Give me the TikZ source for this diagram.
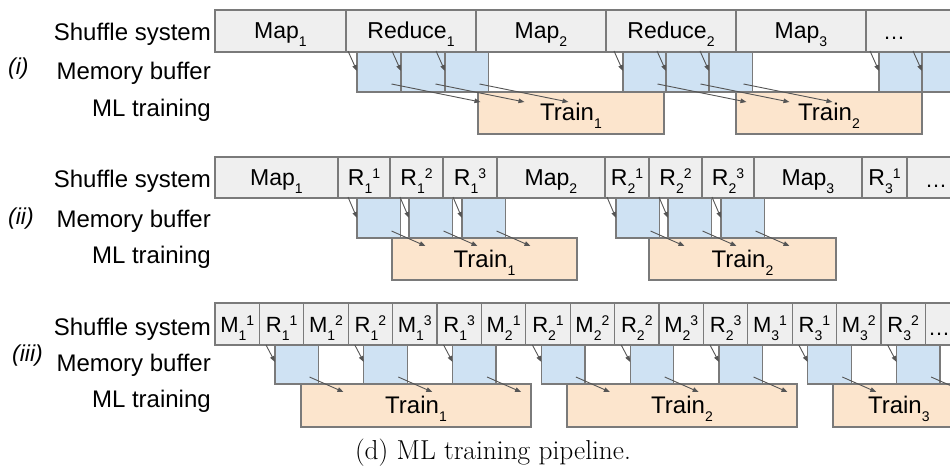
\documentclass[tikz,border=0pt]{standalone}
\usepackage{fontspec}
\newfontfamily\arial{Liberation Sans}
\usetikzlibrary{arrows.meta,calc}

\definecolor{shufFill}{HTML}{EFEFEF}
\definecolor{bufFill}{HTML}{CFE2F3}
\definecolor{trainFill}{HTML}{FCE5CD}
\definecolor{edgeGray}{HTML}{7A7A7A}
\definecolor{arrowGray}{HTML}{555555}

% small lowered / raised indices, set one after the other
\newcommand\lo[1]{\raisebox{-8pt}{\fontsize{14}{14}\selectfont #1}}
\newcommand\hi[1]{\raisebox{7pt}{\fontsize{14}{14}\selectfont #1}}

\tikzset{
  cell/.style={draw=edgeGray, line width=1.3pt, inner sep=0pt, outer sep=0pt,
    anchor=north west, text height=16pt, text depth=0pt,
    font=\arial\fontsize{23}{23}\selectfont},
  shufbox/.style={cell, fill=shufFill, minimum height=42pt},
  bufbox/.style={cell, fill=bufFill, minimum height=40pt, minimum width=43.5pt},
  trainbox/.style={cell, fill=trainFill, minimum height=42pt,
    font=\arial\fontsize{24}{24}\selectfont},
  rowlabel/.style={anchor=base east, inner sep=0pt, font=\arial\fontsize{24}{24}\selectfont},
  caselabel/.style={anchor=base west, inner sep=0pt, font=\arial\itshape\fontsize{23}{23}\selectfont},
  dotlabel/.style={anchor=base west, inner sep=0pt, font=\arial\fontsize{22}{22}\selectfont},
  flow/.style={draw=arrowGray, line width=0.9pt, -{Triangle[length=6pt,width=4.5pt]}},
}

\begin{document}
\begin{tikzpicture}[x=1pt,y=-1pt]
\useasboundingbox (0,0) rectangle (950,473);
\clip (0,0) rectangle (950,473);

% ---------------- (i) ----------------
\node[rowlabel] (la1) at (211,41) {Shuffle system};
\node[rowlabel] (la2) at (211,80) {Memory buffer};
\node[rowlabel] (la3) at (211,117) {ML training};
\node[caselabel] (ca) at (8,75) {(i)};

\foreach \n/\x/\w/\lab in {a1/215/131/Map\lo{1}, a2/346/130/Reduce\lo{1},
    a3/476/130/Map\lo{2}, a4/606/130/Reduce\lo{2}, a5/736/130/Map\lo{3},
    a6/866/130/{}}
  \node[shufbox, minimum width=\w pt] (\n) at (\x,10) {\lab};
\node[dotlabel] (ad) at (883,40) {…};

\node[trainbox, minimum width=186pt] (at1) at (478,92) {Train\lo{1}};
\node[trainbox, minimum width=186pt] (at2) at (736,92) {Train\lo{2}};

\foreach \n/\x in {ab1/357, ab2/401, ab3/445, ab4/623, ab5/666, ab6/709, ab7/879, ab8/922}
  \node[bufbox] (\n) at (\x,52) {};

\foreach \n in {ab1,ab2,ab3,ab4,ab5,ab6,ab7,ab8}
  \draw[flow] ($(\n.north west)+(-9,-1)$) -- ($(\n.north west)+(0,19)$);
\foreach \n in {ab1,ab2,ab3,ab4,ab5,ab6}
  \draw[flow] ($(\n.south east)+(-9,-8)$) -- ($(\n.south east)+(80,10)$);

% ---------------- (ii) ----------------
\node[rowlabel] (lb1) at (211,188) {Shuffle system};
\node[rowlabel] (lb2) at (211,227) {Memory buffer};
\node[rowlabel] (lb3) at (211,263) {ML training};
\node[caselabel] (cb) at (8,224) {(ii)};

\foreach \n/\x/\w/\lab in {b1/215/123/Map\lo{1}, b2/338/52/R\lo{1}\hi{1},
    b3/390/53/R\lo{1}\hi{2}, b4/443/54/R\lo{1}\hi{3}, b5/497/108/Map\lo{2},
    b6/605/44/R\lo{2}\hi{1}, b7/649/53/R\lo{2}\hi{2}, b8/702/52/R\lo{2}\hi{3},
    b9/754/108/Map\lo{3}, b10/862/45/R\lo{3}\hi{1}, b11/907/60/{}}
  \node[shufbox, minimum height=41pt, minimum width=\w pt] (\n) at (\x,157) {\lab};
\node[dotlabel] (bd) at (925,188) {…};

\node[trainbox, minimum width=185pt] (bt1) at (392,238) {Train\lo{1}};
\node[trainbox, minimum width=187pt] (bt2) at (649,238) {Train\lo{2}};

\foreach \n/\x in {bb1/357, bb2/409, bb3/462, bb4/616, bb5/668, bb6/721}
  \node[bufbox] (\n) at (\x,198) {};

\foreach \n in {bb1,bb2,bb3,bb4,bb5,bb6}{
  \draw[flow] ($(\n.north west)+(-9,-1)$) -- ($(\n.north west)+(0,20)$);
  \draw[flow] ($(\n.south east)+(-9,-7)$) -- ($(\n.south east)+(25,8)$);
}

% ---------------- (iii) ----------------
\node[rowlabel] (lc1) at (211,335) {Shuffle system};
\node[rowlabel] (lc2) at (211,371) {Memory buffer};
\node[rowlabel] (lc3) at (211,407) {ML training};
\node[caselabel] (cc) at (12,361) {(iii)};

\foreach \lab [count=\k from 0] in {M\lo{1}\hi{1}, R\lo{1}\hi{1}, M\lo{1}\hi{2}, R\lo{1}\hi{2},
    M\lo{1}\hi{3}, R\lo{1}\hi{3}, M\lo{2}\hi{1}, R\lo{2}\hi{1}, M\lo{2}\hi{2}, R\lo{2}\hi{2},
    M\lo{2}\hi{3}, R\lo{2}\hi{3}, M\lo{3}\hi{1}, R\lo{3}\hi{1}, M\lo{3}\hi{2}, R\lo{3}\hi{2}, {}}
  \node[shufbox, minimum width=44.4pt, font=\arial\fontsize{22}{22}\selectfont]
    (c\k) at ({215+44.4*\k},303) {\lab};
\node[dotlabel] (cd) at (928,335) {…};

\node[trainbox, minimum width=230pt, minimum height=43pt] (ct1) at (301,384) {Train\lo{1}};
\node[trainbox, minimum width=230pt, minimum height=43pt] (ct2) at (567,384) {Train\lo{2}};
\node[trainbox, minimum width=200pt, minimum height=43pt, text width=176pt, align=left]
  (ct3) at (833,384) {\hspace*{23pt}Train\lo{3}};

\foreach \j in {0,...,7}
  \node[bufbox, minimum height=39pt] (cb\j) at ({275+88.8*\j},345) {};

\foreach \j in {0,...,7}{
  \draw[flow] ($(cb\j.north west)+(-9,0)$) -- ($(cb\j.north west)+(0,17)$);
  \draw[flow] ($(cb\j.south east)+(-9,-7)$) -- ($(cb\j.south east)+(25,8)$);
}

% ---------------- caption ----------------
\node[anchor=base, inner sep=0pt, font=\fontsize{27.4}{27.4}\selectfont] (cap) at (493,459)
  {(d) ML training pipeline.};
\end{tikzpicture}
\end{document}
